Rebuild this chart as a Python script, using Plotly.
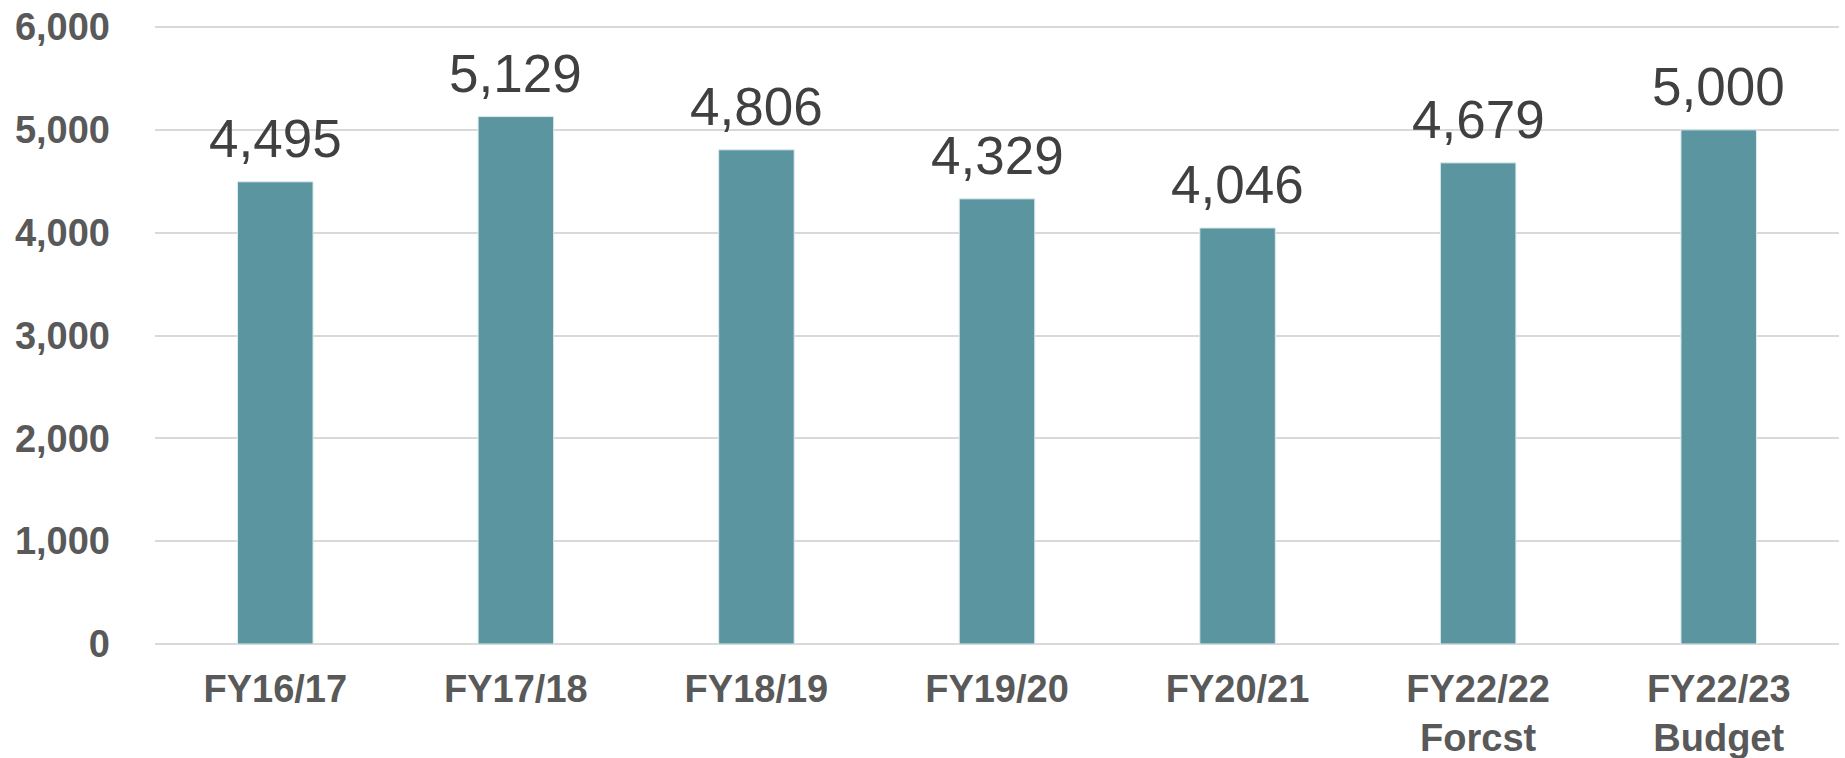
import plotly.graph_objects as go

categories = ["FY16/17", "FY17/18", "FY18/19", "FY19/20", "FY20/21",
              "FY22/22<br>Forcst", "FY22/23<br>Budget"]
values = [4495, 5129, 4806, 4329, 4046, 4679, 5000]
tick_vals = [0, 1000, 2000, 3000, 4000, 5000, 6000]
tick_text = ["0", "1,000", "2,000", "3,000", "4,000", "5,000", "6,000"]

bar_color = "#5B96A0"

fig = go.Figure()
fig.add_trace(go.Bar(
    x=categories, y=values,
    marker=dict(color=bar_color, line=dict(color="#DDEBEE", width=1)),
    width=0.314,
    hoverinfo="skip",
))

for c, v in zip(categories, values):
    fig.add_annotation(
        x=c, y=v, text=f"{v:,}", showarrow=False,
        yanchor="bottom", yshift=12,
        font=dict(family="Liberation Sans, Arial", size=53, color="#404040"),
    )

fig.update_layout(
    width=1845, height=758,
    margin=dict(l=155, r=6, t=26, b=114, autoexpand=False),
    paper_bgcolor="white", plot_bgcolor="white",
    showlegend=False,
    font=dict(family="Liberation Sans, Arial", color="#595959"),
)
fig.update_xaxes(
    showgrid=False, showline=False, zeroline=False, automargin=False,
    tickfont=dict(family="Liberation Sans, Arial", size=38, color="#595959", weight="bold"),
    ticklabelstandoff=19, ticklabeloverflow="allow",
)
fig.update_yaxes(
    range=[0, 6010], tickvals=tick_vals, ticktext=tick_text, automargin=False,
    showgrid=True, gridcolor="#D9D9D9", gridwidth=2,
    zeroline=True, zerolinecolor="#D9D9D9", zerolinewidth=2,
    showline=False,
    tickfont=dict(family="Liberation Sans, Arial", size=38, color="#595959", weight="bold"),
    ticklabelstandoff=44, ticklabeloverflow="allow",
)

fig.write_html(
    "out.html",
    config={"displayModeBar": False},
    post_script="document.body.style.margin='0';document.body.style.overflow='hidden';",
)
